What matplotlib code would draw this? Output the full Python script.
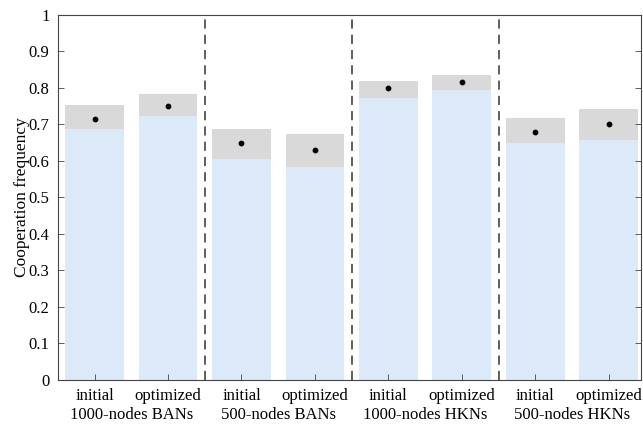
import matplotlib
matplotlib.use("Agg")
import matplotlib.pyplot as plt
import matplotlib.transforms as mtransforms

plt.rcParams["font.family"] = ["Liberation Serif", "DejaVu Serif"]

# Bar labels and network groups
conditions = ["initial", "optimized"] * 4
groups = ["1000-nodes BANs", "500-nodes BANs", "1000-nodes HKNs", "500-nodes HKNs"]

# Cooperation frequency: lower bound, mean, upper bound per bar
lower = [0.688, 0.724, 0.606, 0.584, 0.772, 0.795, 0.649, 0.656]
mean = [0.715, 0.750, 0.649, 0.629, 0.800, 0.817, 0.679, 0.700]
upper = [0.753, 0.784, 0.687, 0.675, 0.818, 0.835, 0.717, 0.741]

BLUE = "#dce9f8"
GREY = "#d9d9d9"

fig = plt.figure(figsize=(6.43, 4.25), dpi=100)
ax = fig.add_axes([0.090, 0.106, 0.907, 0.859])

x = list(range(1, len(lower) + 1))
band = [u - l for u, l in zip(upper, lower)]
ax.bar(x, lower, width=0.8, color=BLUE, zorder=1)
ax.bar(x, band, bottom=lower, width=0.8, color=GREY, zorder=1)
ax.scatter(x, mean, s=10, color="black", zorder=3)

for sep in (2.5, 4.5, 6.5):
    ax.axvline(sep, color="#333333", linewidth=1.1, linestyle=(0, (6, 4)), zorder=2)

ax.set_xlim(0.5, 8.44)
ax.set_ylim(0, 1)
ax.set_yticks([i / 10 for i in range(11)])
ax.set_yticklabels(["0"] + [f"{i / 10:.1f}" for i in range(1, 10)] + ["1"])
ax.set_xticks(x)
ax.set_xticklabels(conditions)
ax.tick_params(direction="in", top=False, right=True, labelsize=12, length=4,
               width=0.6, color="#444444", pad=6)
for s in ax.spines.values():
    s.set_linewidth(0.8)
    s.set_color("#444444")

ax.set_ylabel("Cooperation frequency", fontsize=12.5, labelpad=-1)

trans = mtransforms.blended_transform_factory(ax.transData, ax.transAxes)
for i, g in enumerate(groups):
    ax.text(2 * i + 1.5, -0.097, g, transform=trans, ha="center", va="center",
            fontsize=12)

fig.savefig("out.png", dpi=100)
